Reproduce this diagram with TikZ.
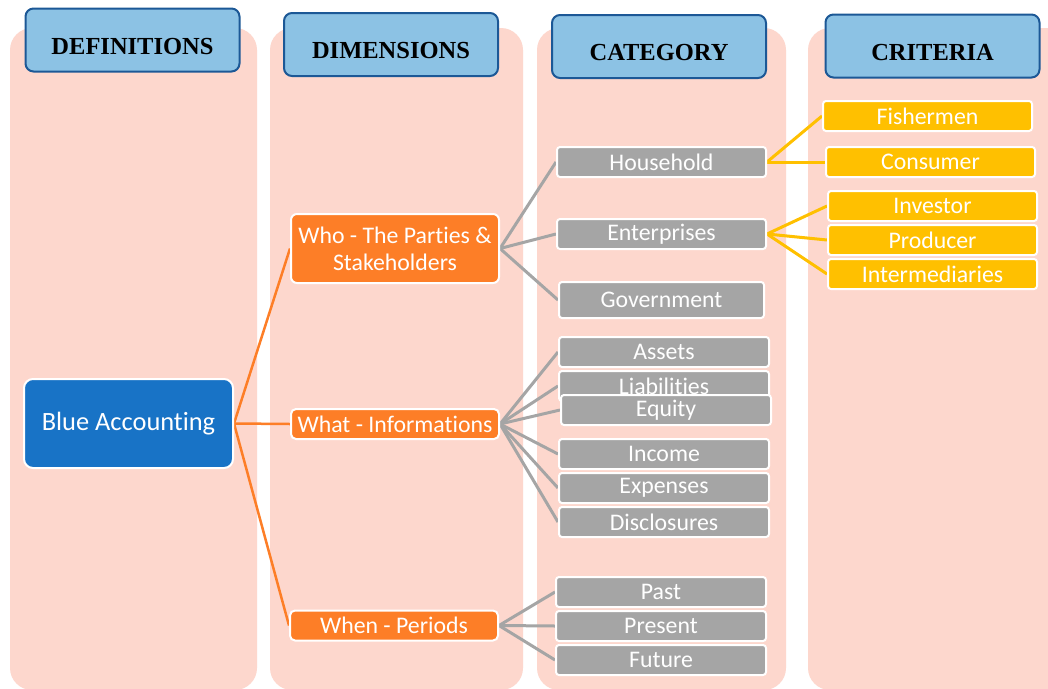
\documentclass[tikz,border=0pt]{standalone}
\usepackage{fontspec}
\setmainfont{Carlito}[Ligatures={NoCommon,NoRare,NoContextual}, RawFeature={-liga;-clig;-calt}]
\newfontfamily\hdrfont{Liberation Serif}
\definecolor{colpink}{RGB}{253,215,205}
\definecolor{hdrfill}{RGB}{140,194,228}
\definecolor{hdredge}{RGB}{28,88,150}
\definecolor{rootblue}{RGB}{24,115,198}
\definecolor{dimorange}{RGB}{253,126,39}
\definecolor{catgray}{RGB}{165,165,165}
\definecolor{crityellow}{RGB}{255,192,0}
\pgfdeclarelayer{bg}
\pgfdeclarelayer{lines}
\pgfsetlayers{bg,lines,main}
\tikzset{
  column/.style={fill=colpink, rounded corners=22pt},
  hdr/.style={draw=hdredge, line width=2pt, fill=hdrfill, rounded corners=8pt,
    minimum width=214pt, minimum height=63pt, inner sep=0pt,
    font=\hdrfont\bfseries\fontsize{24.5}{26}\selectfont,
    text height=28pt, text depth=0pt},
  box/.style={draw=white, line width=2pt, text=white, inner sep=0pt,
    font=\fontsize{23.8}{27}\selectfont, align=center},
  rootbox/.style={box, fill=rootblue, rounded corners=9pt, font=\fontsize{26.4}{28}\selectfont},
  dimbox/.style={box, fill=dimorange, rounded corners=5pt, minimum width=208pt, minimum height=30pt},
  catbox/.style={box, fill=catgray, rounded corners=3pt, minimum width=210pt, minimum height=30pt},
  critbox/.style={box, fill=crityellow, rounded corners=3pt, minimum width=209pt, minimum height=30pt},
  dimlink/.style={draw=dimorange, line width=2.5pt},
  catlink/.style={draw=catgray, line width=3pt},
  critlink/.style={draw=crityellow, line width=3pt},
}
\begin{document}
\begin{tikzpicture}[x=1pt,y=-1pt]
\useasboundingbox (0,0) rectangle (1048,688);

% column backgrounds
\begin{pgfonlayer}{bg}
  \fill[white] (0,0) rectangle (1048,688);
  \fill[column] (10,28) rectangle (257,690);
  \fill[column] (270,28) rectangle (523,690);
  \fill[column] (537,28) rectangle (786,690);
  \fill[column] (808,28) rectangle (1075,690);
\end{pgfonlayer}

% column headings
\node[hdr] (hdef)  at (132.5,40)  {DEFINITIONS};
\node[hdr] (hdim)  at (391,44.5)  {DIMENSIONS};
\node[hdr] (hcat)  at (659,46.5)  {CATEGORY};
\node[hdr] (hcrit) at (932.5,46)  {CRITERIA};

% root
\node[rootbox, minimum width=209pt, minimum height=89pt] (root) at (128.5,423.5) {Blue Accounting};

% dimensions
\node[dimbox, minimum height=69pt, rounded corners=6pt] (who) at (395,248.5) {Who - The Parties \&\\Stakeholders};
\node[dimbox] (what) at (395,424) {What - Informations};
\node[dimbox] (when) at (394,625.5) {When - Periods};

% categories
\node[catbox, minimum width=209pt] (household) at (661.5,162) {Household};
\node[catbox, minimum width=209pt] (enterprises) at (661.5,234) {Enterprises};
\node[catbox, minimum width=205pt, minimum height=36pt] (government) at (661.5,300) {Government};
\node[catbox] (assets) at (664,352) {Assets};
\node[catbox] (liabilities) at (664,386) {Liabilities};
\node[catbox] (equity) at (666,410) {Equity};
\node[catbox] (income) at (664,454) {Income};
\node[catbox] (expenses) at (664,488) {Expenses};
\node[catbox] (disclosures) at (664,522) {Disclosures};
\node[catbox] (past) at (661,592) {Past};
\node[catbox] (present) at (661,626) {Present};
\node[catbox] (future) at (661,660) {Future};

% criteria
\node[critbox] (fishermen) at (927.5,116) {Fishermen};
\node[critbox] (consumer) at (930.5,162) {Consumer};
\node[critbox] (investor) at (932.5,206) {Investor};
\node[critbox] (producer) at (932.5,240) {Producer};
\node[critbox] (intermediaries) at (932.5,274) {Intermediaries};

% connectors
\begin{pgfonlayer}{lines}
  \foreach \d in {who,what,when}
    \draw[dimlink] (root.east) -- (\d.west);
  \foreach \c in {household,enterprises,government}
    \draw[catlink] (who.east) -- (\c.west);
  \foreach \c in {assets,liabilities,equity,income,expenses,disclosures}
    \draw[catlink] (what.east) -- (\c.west);
  \foreach \c in {past,present,future}
    \draw[catlink] (when.east) -- (\c.west);
  \foreach \k in {fishermen,consumer}
    \draw[critlink] (household.east) -- (\k.west);
  \foreach \k in {investor,producer,intermediaries}
    \draw[critlink] (enterprises.east) -- (\k.west);
\end{pgfonlayer}
\end{tikzpicture}
\end{document}
